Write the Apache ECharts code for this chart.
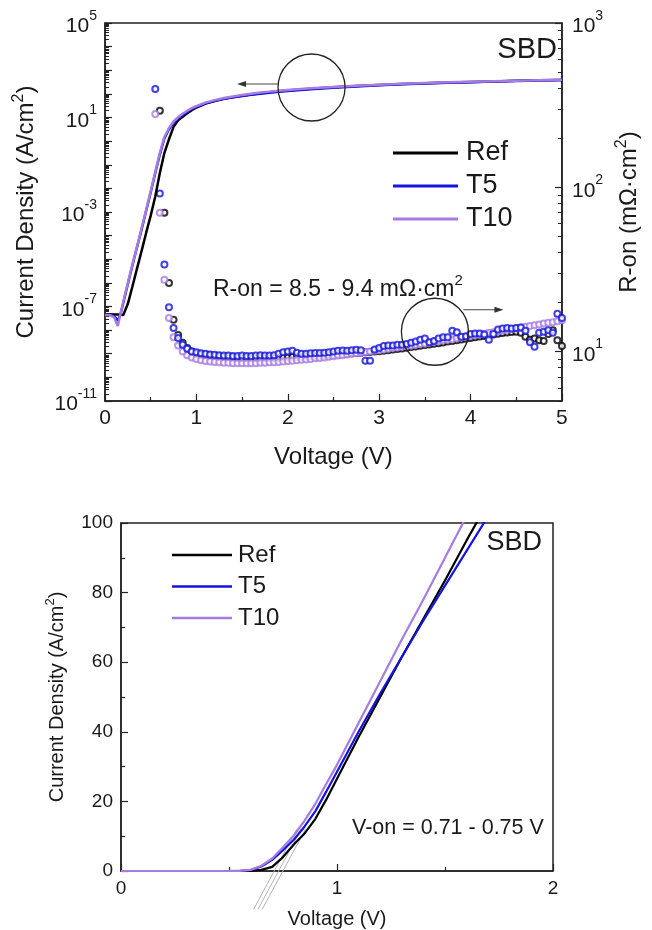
<!DOCTYPE html>
<html>
<head>
<meta charset="utf-8">
<script src="https://cdn.jsdelivr.net/npm/echarts@6/dist/echarts.min.js"></script>
<style>
  html, body { margin: 0; padding: 0; background: #fff; }
  #chart { width: 652px; height: 930px; }
</style>
</head>
<body>
<div id="chart"></div>
<script>
// SBD forward characteristics: J-V (log and linear) and on-resistance
const FONT = '"Liberation Sans", Arial, Helvetica, sans-serif';
const TEXT = '#1a1a1a';

const seriesNames = ['Ref', 'T5', 'T10'];
const seriesColors = ['#000000', '#1414dc', '#a67ce2'];

// Forward J-V sweep: voltage (V) and current density (A/cm2)
const ivVoltage = [0, 0.05, 0.10, 0.14, 0.17, 0.20, 0.25, 0.30, 0.35, 0.40, 0.45, 0.50, 0.55, 0.60, 0.65,
  0.70, 0.75, 0.80, 0.85, 0.90, 0.95, 1.00, 1.10, 1.20, 1.30, 1.40, 1.50, 1.60, 1.70, 1.80, 1.90, 2.00,
  2.25, 2.50, 2.75, 3.00, 3.25, 3.50, 3.75, 4.00, 4.25, 4.50, 4.75, 5.00];
const refCurrent = [4.7e-8, 4.7e-8, 4.6e-8, 4.6e-8, 4.5e-8, 4.4e-8, 1.3e-7, 7.0e-7, 4.0e-6, 2.2e-5, 1.3e-4, 7.0e-4,
  4.5e-3, 4.5e-2, 0.32, 1.2, 4.0, 7.6, 10.8, 15, 20.5, 26.5, 38.5, 50, 61.5, 72.5, 83.5, 95, 106, 117, 128, 139,
  166, 191, 215, 238, 260, 281, 301, 320, 338, 356, 373, 390];
const t5Current = [4.4e-8, 4.4e-8, 4.0e-8, 2.5e-8, 4.8e-8, 1.4e-7, 9.0e-7, 5.5e-6, 3.2e-5, 1.8e-4, 1.1e-3, 6.8e-3,
  4.4e-2, 0.27, 1.3, 3.2, 6.0, 9.0, 12.8, 17.2, 22.8, 28.5, 40, 51, 61.5, 72, 82, 92, 102, 112, 122, 132,
  158, 183, 207, 230, 253, 274, 295, 314, 332, 350, 367, 384];
const t10Current = [4.4e-8, 4.4e-8, 3.5e-8, 1.5e-8, 5.0e-8, 1.6e-7, 1.0e-6, 6.0e-6, 3.4e-5, 2.0e-4, 1.2e-3, 7.5e-3,
  5.0e-2, 0.32, 1.5, 3.6, 6.8, 10.2, 14.5, 19.3, 25, 30.5, 42.5, 54.5, 66.5, 78, 90, 102, 113.5, 124.5, 135.5, 146,
  172, 197, 221, 244, 266, 287, 307, 326, 344, 362, 379, 396];

// Differential on-resistance (mOhm*cm2)
const ronVoltage = [0.55, 0.60, 0.65, 0.70, 0.75, 0.80, 0.85, 0.90, 0.95, 1.00,
  1.05, 1.10, 1.15, 1.20, 1.25, 1.30, 1.35, 1.40, 1.45, 1.50,
  1.55, 1.60, 1.65, 1.70, 1.75, 1.80, 1.85, 1.90, 1.95, 2.00,
  2.05, 2.10, 2.15, 2.20, 2.25, 2.30, 2.35, 2.40, 2.45, 2.50,
  2.55, 2.60, 2.65, 2.70, 2.75, 2.80, 2.85, 2.90, 2.95, 3.00,
  3.05, 3.10, 3.15, 3.20, 3.25, 3.30, 3.35, 3.40, 3.45, 3.50,
  3.55, 3.60, 3.65, 3.70, 3.75, 3.80, 3.85, 3.90, 3.95, 4.00,
  4.05, 4.10, 4.15, 4.20, 4.25, 4.30, 4.35, 4.40, 4.45, 4.50,
  4.55, 4.60, 4.65, 4.70, 4.75, 4.80, 4.85, 4.90, 4.95, 5.00];
const refRon = [null, 292, 70, 26.1, 15.6, 12.6, 11.3, 10.5, 10.0, 9.7,
  9.6, 9.5, 9.45, 9.4, 9.3, 9.25, 9.2, 9.2, 9.15, 9.15,
  9.15, 9.1, 9.1, 9.1, 9.1, 9.1, 9.15, 9.15, 9.2, 9.2,
  9.25, 9.3, 9.3, 9.35, 9.4, 9.4, 9.45, 9.5, 9.5, 9.55,
  9.6, 9.65, 9.7, 9.75, 9.8, 9.85, 9.9, 9.95, 10.0, 10.05,
  10.1, 10.2, 10.3, 10.35, 10.45, 10.55, 10.65, 10.75, 10.85, 10.95,
  11.05, 11.15, 11.25, 11.35, 11.5, 11.6, 11.7, 11.85, 11.95, 12.1,
  12.2, 12.35, 12.45, 12.6, 12.7, 12.85, 12.95, 13.05, 13.15, 13.2,
  13.0, 12.3, 11.8, 12.0, 11.7, 11.6, 12.8, 13.5, 11.7, 10.8];
const t5Ron = [396, 91.6, 33.9, 18.6, 13.9, 12.1, 11.0, 10.4, 10.0, 9.9,
  9.75, 9.7, 9.6, 9.55, 9.5, 9.45, 9.45, 9.4, 9.4, 9.45,
  9.4, 9.4, 9.45, 9.5, 9.45, 9.45, 9.5, 9.7, 9.9, 10.0,
  10.1, 9.85, 9.7, 9.7, 9.75, 9.8, 9.8, 9.85, 9.9, 10.0,
  10.1, 10.15, 10.1, 10.2, 10.25, 10.2, 8.8, 8.8, 10.3, 10.5,
  10.8, 10.9, 10.9, 11.0, 11.0, 11.1, 11.3, 11.5, 11.8, 12.0,
  11.4, 11.6, 12.0, 12.2, 12.2, 13.4, 13.1, 12.3, 12.4, 12.8,
  12.9, 12.9, 12.7, 11.8, 12.8, 13.6, 13.8, 13.9, 13.8, 13.9,
  14.0, 13.4, 11.4, 10.7, 13.0, 13.2, 13.5, 13.0, 17.0, 16.0];
const t10Ron = [279, 70, 27.4, 16.0, 12.2, 10.9, 10.0, 9.5, 9.2, 9.0,
  8.85, 8.75, 8.7, 8.65, 8.6, 8.55, 8.55, 8.5, 8.5, 8.5,
  8.5, 8.5, 8.5, 8.55, 8.55, 8.6, 8.6, 8.65, 8.7, 8.75,
  8.8, 8.85, 8.9, 8.95, 9.0, 9.1, 9.15, 9.2, 9.3, 9.35,
  9.45, 9.5, 9.6, 9.7, 9.75, 9.85, 9.95, 10.0, 10.1, 10.2,
  10.3, 10.4, 10.5, 10.6, 10.7, 10.8, 10.9, 11.0, 11.1, 11.2,
  11.3, 11.45, 11.55, 11.7, 11.8, 11.9, 12.05, 12.2, 12.3, 12.45,
  12.55, 12.7, 12.85, 13.0, 13.1, 13.25, 13.4, 13.55, 13.7, 13.85,
  14.0, 14.15, 14.3, 14.45, 14.6, 14.8, 14.95, 15.1, 15.3, 15.5];

// Linear-region extrapolations to J = 0 (turn-on voltage)
const refTangent = [[0.654, -11], [0.854, 12]];
const t5Tangent = [[0.634, -11], [0.834, 12]];
const t10Tangent = [[0.614, -11], [0.814, 12]];

// Log-axis tick values
const currentLabelTicks = [1e-11, 1e-7, 1e-3, 1e1, 1e5];
const currentDecades = [1e-11, 1e-10, 1e-9, 1e-8, 1e-7, 1e-6, 1e-5, 1e-4, 1e-3, 1e-2, 1e-1, 1, 1e1, 1e2, 1e3, 1e4, 1e5];
const ronLabelTicks = [10, 100, 1000];
const ronDecades = [1, 10, 100];

const currents = [refCurrent, t5Current, t10Current];
const rons = [refRon, t5Ron, t10Ron];
const tangents = [refTangent, t5Tangent, t10Tangent];

function minorLogTicks(decades, lo, hi) {
  const out = [];
  decades.forEach(d => { for (let k = 2; k <= 9; k++) { const v = d * k; if (v >= lo && v <= hi) out.push(v); } });
  return out;
}

function powerLabel(size, supSize) {
  return {
    formatter: v => '{b|10}{s|' + Math.round(Math.log10(v)) + '}',
    rich: {
      b: { fontSize: size, fontFamily: FONT, color: TEXT, lineHeight: 28, verticalAlign: 'bottom' },
      s: { fontSize: supSize, fontFamily: FONT, color: TEXT, lineHeight: 15, verticalAlign: 'top' }
    }
  };
}

const axisLineStyle = { lineStyle: { color: '#222', width: 1.5 } };

const chart = echarts.init(document.getElementById('chart'), null, { renderer: 'canvas' });

const series = [];
// top panel: log J-V curves
seriesNames.forEach((name, i) => {
  series.push({
    name, type: 'line', xAxisIndex: 0, yAxisIndex: 0, symbol: 'none', z: 5 + i,
    data: ivVoltage.map((v, k) => [v, currents[i][k]]),
    lineStyle: { color: seriesColors[i], width: 2.5 }, itemStyle: { color: seriesColors[i] }
  });
});
// top panel: on-resistance points
[0, 2, 1].forEach(i => {
  series.push({
    name: seriesNames[i] + ' R-on', type: 'scatter', xAxisIndex: 0, yAxisIndex: 2,
    symbol: 'emptyCircle', symbolSize: 6, z: 3,
    data: ronVoltage.map((v, k) => [v, rons[i][k]]).filter(p => p[1] != null),
    itemStyle: { color: seriesColors[i], borderWidth: 1.8 }
  });
});
// bottom panel: tangent lines
tangents.forEach((t, i) => {
  series.push({
    name: seriesNames[i] + ' tangent', type: 'line', xAxisIndex: 1, yAxisIndex: 4,
    symbol: 'none', clip: false, silent: true, z: 1, data: t,
    lineStyle: { color: '#b4b4b4', width: 1 }
  });
});
// bottom panel: linear J-V curves
seriesNames.forEach((name, i) => {
  series.push({
    name, type: 'line', xAxisIndex: 1, yAxisIndex: 4, symbol: 'none', z: 5 + i,
    data: ivVoltage.map((v, k) => [v, currents[i][k]]),
    lineStyle: { color: seriesColors[i], width: 2.2 }, itemStyle: { color: seriesColors[i] }
  });
});

const option = {
  animation: false,
  backgroundColor: '#fff',
  textStyle: { fontFamily: FONT, color: TEXT },
  grid: [
    { left: 105, top: 23, width: 466, height: 378, show: true, borderColor: '#222', borderWidth: 1.5 },
    { left: 121, top: 523, width: 432, height: 348, show: true, borderColor: '#222', borderWidth: 1.5 }
  ],
  legend: [
    {
      data: seriesNames, orient: 'vertical', left: 393, top: 138, padding: 0,
      icon: 'rect', itemWidth: 65, itemHeight: 3, itemGap: 3,
      textStyle: { fontSize: 27, lineHeight: 30, color: TEXT, fontFamily: FONT, padding: [0, 0, 0, 3] }
    },
    {
      data: seriesNames, orient: 'vertical', left: 172, top: 541, padding: 0,
      icon: 'rect', itemWidth: 60, itemHeight: 2.5, itemGap: 3.5,
      textStyle: { fontSize: 24, lineHeight: 28, color: TEXT, fontFamily: FONT, padding: [0, 0, 0, 1] }
    }
  ],
  xAxis: [
    {
      gridIndex: 0, type: 'value', min: 0, max: 5, interval: 1,
      axisLine: Object.assign({ onZero: false }, axisLineStyle),
      axisTick: { inside: true, length: 7, lineStyle: { color: '#222', width: 1.2 } },
      minorTick: { show: true, splitNumber: 2, length: 4, lineStyle: { color: '#222', width: 1.2 } },
      splitLine: { show: false },
      axisLabel: { fontSize: 21, color: TEXT, fontFamily: FONT, margin: 7 },
      name: 'Voltage (V)', nameLocation: 'middle', nameGap: 44,
      nameTextStyle: { fontSize: 24, color: TEXT, fontFamily: FONT }
    },
    {
      gridIndex: 1, type: 'value', min: 0, max: 2, interval: 1,
      axisLine: Object.assign({ onZero: false }, axisLineStyle),
      axisTick: { inside: true, length: 7, lineStyle: { color: '#222', width: 1.2 } },
      minorTick: { show: true, splitNumber: 2, length: 4, lineStyle: { color: '#222', width: 1.2 } },
      splitLine: { show: false },
      axisLabel: { fontSize: 19, color: TEXT, fontFamily: FONT, margin: 8 },
      name: 'Voltage (V)', nameLocation: 'middle', nameGap: 38,
      nameTextStyle: { fontSize: 20, color: TEXT, fontFamily: FONT }
    }
  ],
  yAxis: [
    {
      gridIndex: 0, type: 'log', logBase: 10, min: 1e-11, max: 1e5, position: 'left',
      axisLine: Object.assign({ onZero: false }, axisLineStyle),
      axisTick: { inside: true, length: 7, customValues: currentDecades, lineStyle: { color: '#222', width: 1.2 } },
      splitLine: { show: false },
      axisLabel: Object.assign({ customValues: currentLabelTicks, margin: 8 }, powerLabel(21, 14)),
      name: 'Current Density (A/cm{s|2})', nameLocation: 'middle', nameRotate: 90, nameGap: 64,
      nameTextStyle: { fontSize: 24, color: TEXT, fontFamily: FONT, lineHeight: 30,
        rich: { s: { fontSize: 16, fontFamily: FONT, color: TEXT, lineHeight: 16, verticalAlign: 'top' } } }
    },
    {
      gridIndex: 0, type: 'log', logBase: 10, min: 1e-11, max: 1e5, position: 'left',
      axisLine: { show: false }, axisLabel: { show: false }, splitLine: { show: false },
      axisTick: { inside: true, length: 4, customValues: minorLogTicks(currentDecades, 1e-11, 1e5), lineStyle: { color: '#222', width: 1 } }
    },
    {
      gridIndex: 0, type: 'log', logBase: 10, min: 5, max: 1000, position: 'right',
      axisLine: Object.assign({ onZero: false }, axisLineStyle),
      axisTick: { inside: true, length: 7, customValues: ronLabelTicks, lineStyle: { color: '#222', width: 1.2 } },
      splitLine: { show: false },
      axisLabel: Object.assign({ customValues: ronLabelTicks, margin: 10 }, powerLabel(21, 14)),
      name: 'R-on (mΩ·cm{s|2})', nameLocation: 'middle', nameRotate: 90, nameGap: 50,
      nameTextStyle: { fontSize: 24, color: TEXT, fontFamily: FONT, lineHeight: 30,
        rich: { s: { fontSize: 16, fontFamily: FONT, color: TEXT, lineHeight: 16, verticalAlign: 'top' } } }
    },
    {
      gridIndex: 0, type: 'log', logBase: 10, min: 5, max: 1000, position: 'right',
      axisLine: { show: false }, axisLabel: { show: false }, splitLine: { show: false },
      axisTick: { inside: true, length: 4, customValues: minorLogTicks(ronDecades, 5, 1000), lineStyle: { color: '#222', width: 1 } }
    },
    {
      gridIndex: 1, type: 'value', min: 0, max: 100, interval: 20, position: 'left',
      axisLine: Object.assign({ onZero: false }, axisLineStyle),
      axisTick: { inside: true, length: 7, lineStyle: { color: '#222', width: 1.2 } },
      minorTick: { show: true, splitNumber: 2, length: 4, lineStyle: { color: '#222', width: 1.2 } },
      splitLine: { show: false },
      axisLabel: { fontSize: 19, color: TEXT, fontFamily: FONT, margin: 8 },
      name: 'Current Density (A/cm{s|2})', nameLocation: 'middle', nameRotate: 90, nameGap: 48,
      nameTextStyle: { fontSize: 20, color: TEXT, fontFamily: FONT, lineHeight: 26,
        rich: { s: { fontSize: 13, fontFamily: FONT, color: TEXT, lineHeight: 13, verticalAlign: 'top' } } }
    }
  ],
  series
};

chart.setOption(option);

// annotations: circled curves with arrows pointing to their axes, and text notes
const c1 = chart.convertToPixel({ xAxisIndex: 0, yAxisIndex: 0 }, [2.26, 186]);
const c2 = chart.convertToPixel({ xAxisIndex: 0, yAxisIndex: 2 }, [3.61, 13.2]);
const R = 33.5;
const stroke = { stroke: '#222', fill: null, lineWidth: 1.3 };
const arrowStyle = { stroke: '#444', lineWidth: 1 };

function textEl(x, y, text, size, align, rich) {
  return {
    type: 'text', x, y, z: 50,
    style: {
      text, font: size + 'px ' + FONT, fontSize: size, fontFamily: FONT, fill: TEXT,
      textAlign: align, align, textVerticalAlign: 'middle', verticalAlign: 'middle', rich
    }
  };
}

const a1y = c1[1] - 3.5, a1x0 = c1[0] - R, a1x1 = a1x0 - 41;
const a2y = c2[1] - 22, a2x0 = c2[0] + 28.5, a2x1 = a2x0 + 40;

chart.setOption({
  graphic: [
    { type: 'circle', z: 40, shape: { cx: c1[0], cy: c1[1], r: R }, style: stroke },
    { type: 'line', z: 40, shape: { x1: a1x0, y1: a1y, x2: a1x1 + 6, y2: a1y }, style: arrowStyle },
    { type: 'polygon', z: 40, shape: { points: [[a1x1, a1y], [a1x1 + 9, a1y - 3], [a1x1 + 9, a1y + 3]] }, style: { fill: '#333' } },
    { type: 'circle', z: 40, shape: { cx: c2[0], cy: c2[1], r: R }, style: stroke },
    { type: 'line', z: 40, shape: { x1: a2x0, y1: a2y, x2: a2x1 - 6, y2: a2y }, style: arrowStyle },
    { type: 'polygon', z: 40, shape: { points: [[a2x1, a2y], [a2x1 - 9, a2y - 3], [a2x1 - 9, a2y + 3]] }, style: { fill: '#333' } },
    textEl(557, 50, 'SBD', 29, 'right'),
    textEl(213, 287, '{t|R-on = 8.5 - 9.4 mΩ·cm}{s|2}', 23, 'left', {
      t: { fontSize: 23, fontFamily: FONT, fill: TEXT, color: TEXT, lineHeight: 28, verticalAlign: 'bottom' },
      s: { fontSize: 15, fontFamily: FONT, fill: TEXT, color: TEXT, lineHeight: 15, verticalAlign: 'top' }
    }),
    textEl(542, 543, 'SBD', 27, 'right'),
    textEl(352, 828, 'V-on = 0.71 - 0.75 V', 21.5, 'left')
  ]
});
</script>
</body>
</html>
